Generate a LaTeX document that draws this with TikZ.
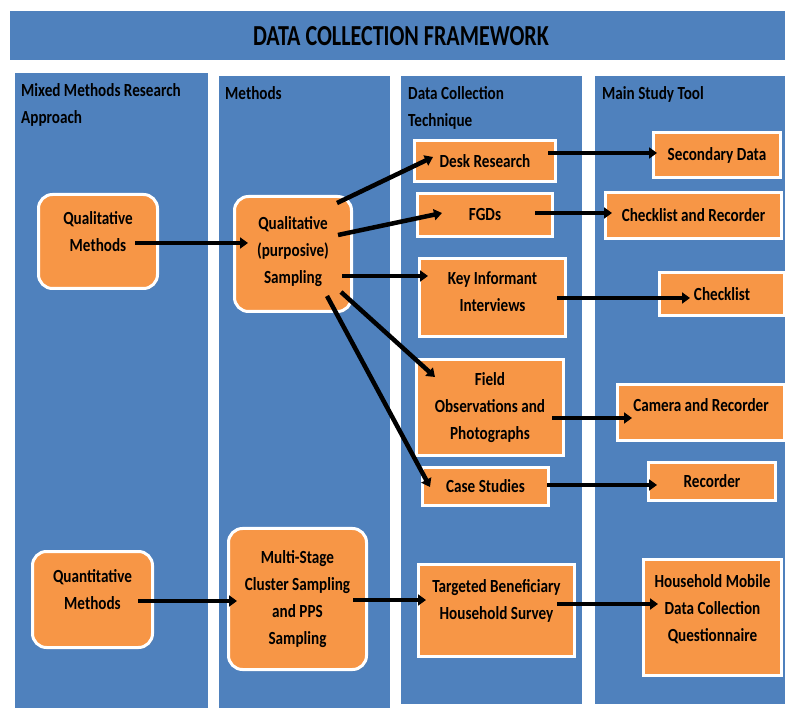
\documentclass[tikz,border=0pt]{standalone}
\usepackage{fontspec}
\setmainfont{Carlito}[FakeStretch=0.82]
\newfontfamily\titlefont{Carlito}[FakeStretch=0.76]
\usetikzlibrary{arrows.meta,calc,shadows}
\definecolor{panelblue}{RGB}{79,129,189}
\definecolor{boxorange}{RGB}{247,150,70}
\newcommand{\lbl}{\bfseries\fontsize{18.5}{27}\selectfont}
\newcommand{\sink}[1]{\rule[-#1pt]{0pt}{0pt}}
\tikzset{
  panel/.style={draw=white, line width=3pt, fill=panelblue,
    drop shadow={shadow xshift=1.5pt, shadow yshift=-1.5pt, opacity=0.3}},
  head/.style={anchor=north west, align=left, inner sep=0pt, font=\lbl},
  box/.style={draw=white, line width=3pt, fill=boxorange, align=center,
    inner sep=0pt, font=\lbl,
    drop shadow={shadow xshift=1.5pt, shadow yshift=-1.5pt, opacity=0.3}},
  rbox/.style={box, rounded corners=14pt},
  sz/.style 2 args={minimum width=#1pt, minimum height=#2pt},
  arr/.style={line width=4.5pt, -{Triangle[length=8pt,width=11pt]}},
}
\begin{document}
\begin{tikzpicture}[x=1pt, y=-1pt]
  \useasboundingbox (0,0) rectangle (785,708);
  \fill[white] (0,0) rectangle (785,708);
  % banner and columns
  \draw[panel] (8,10) rectangle (792,62);
  \node[font=\titlefont\bfseries\fontsize{29}{32}\selectfont] (title) at (401,36) {DATA COLLECTION FRAMEWORK};
  \draw[panel] (13,72) rectangle (209,715);
  \draw[panel] (217,75) rectangle (391,715);
  \draw[panel] (399,75) rectangle (583,705);
  \draw[panel] (593,75) rectangle (792,705);
  \node[head] (h1) at (21,83) {Mixed Methods Research\\Approach};
  \node[head] (h2) at (225,86) {Methods};
  \node[head] (h3) at (408,86) {Data Collection\\Technique};
  \node[head] (h4) at (602,86) {Main Study Tool};
  % approach and methods
  \node[rbox, sz={119}{94}] (qualm) at (98,241.5) {Qualitative\\Methods\sink{20}};
  \node[rbox, sz={117}{115}] (quals) at (293,254) {Qualitative\\(purposive)\\Sampling\sink{8}};
  \node[rbox, sz={120}{96}] (quanm) at (92.5,599.5) {Quantitative\\Methods\sink{20}};
  \node[rbox, sz={138}{141}] (msc) at (297.5,599) {Multi-Stage\\Cluster Sampling\\and PPS\\Sampling\sink{4}};
  % techniques
  \node[box, sz={141}{41}] (desk) at (485,161) {Desk Research};
  \node[box, sz={135}{43}] (fgd) at (485,215) {FGDs};
  \node[box, sz={146}{78}] (kii) at (492.5,297.5) {Key Informant\\Interviews\sink{12}};
  \node[box, sz={147}{96}] (field) at (490,407.5) {Field\\Observations and\\Photographs};
  \node[box, sz={126}{38}] (case) at (485.5,486.5) {Case Studies};
  \node[box, sz={156}{92}] (tbhs) at (496.5,610.5) {Targeted Beneficiary\\Household Survey\sink{22}};
  % tools
  \node[box, sz={127}{45}] (second) at (717,155) {Secondary Data};
  \node[box, sz={176}{46}] (chrec) at (693.5,215.5) {Checklist and Recorder};
  \node[box, sz={125}{43}] (check) at (722,294) {Checklist};
  \node[box, sz={167}{56}] (camera) at (701,412.5) {Camera and Recorder\sink{14}};
  \node[box, sz={127}{38}] (recorder) at (712,481.5) {Recorder};
  \node[box, sz={138}{116}] (hmdcq) at (712.5,617.5) {Household Mobile\\Data Collection\\Questionnaire\sink{18}};
  % arrows
  \draw[arr] ($(qualm.east)+(-24,1.5)$) -- ($(quals.west)+(15,-11)$);
  \draw[arr] ($(quals.north east)+(-16,8)$) -- ($(desk.west)+(20,-4)$);
  \draw[arr] ($(quals.east)+(-15,-19)$) -- ($(fgd.west)+(26,-2)$);
  \draw[arr] ($(quals.east)+(-11,22)$) -- ($(kii.west)+(10,-21.5)$);
  \draw[arr] ($(quals.south east)+(-12,-21)$) -- ($(field.north west)+(20,19)$);
  \draw[arr] ($(quals.south east)+(-26,-17)$) -- ($(case.west)+(9,0.5)$);
  \draw[arr] ($(desk.east)+(-9,-8)$) -- ($(second.west)+(5,-2)$);
  \draw[arr] ($(fgd.east)+(-19,-2)$) -- ($(chrec.west)+(8,-2.5)$);
  \draw[arr] ($(kii.east)+(-10,0.5)$) -- ($(check.west)+(32,4)$);
  \draw[arr] ($(field.east)+(-13,10.5)$) -- ($(camera.west)+(16,5.5)$);
  \draw[arr] ($(case.east)+(-3,-1.5)$) -- ($(recorder.west)+(10,3.5)$);
  \draw[arr] ($(quanm.east)+(-16,1.5)$) -- ($(msc.west)+(10,2)$);
  \draw[arr] ($(msc.east)+(-15,1)$) -- ($(tbhs.west)+(9,-10.5)$);
  \draw[arr] ($(tbhs.east)+(-19,-6.5)$) -- ($(hmdcq.west)+(16,-13.5)$);
\end{tikzpicture}
\end{document}
